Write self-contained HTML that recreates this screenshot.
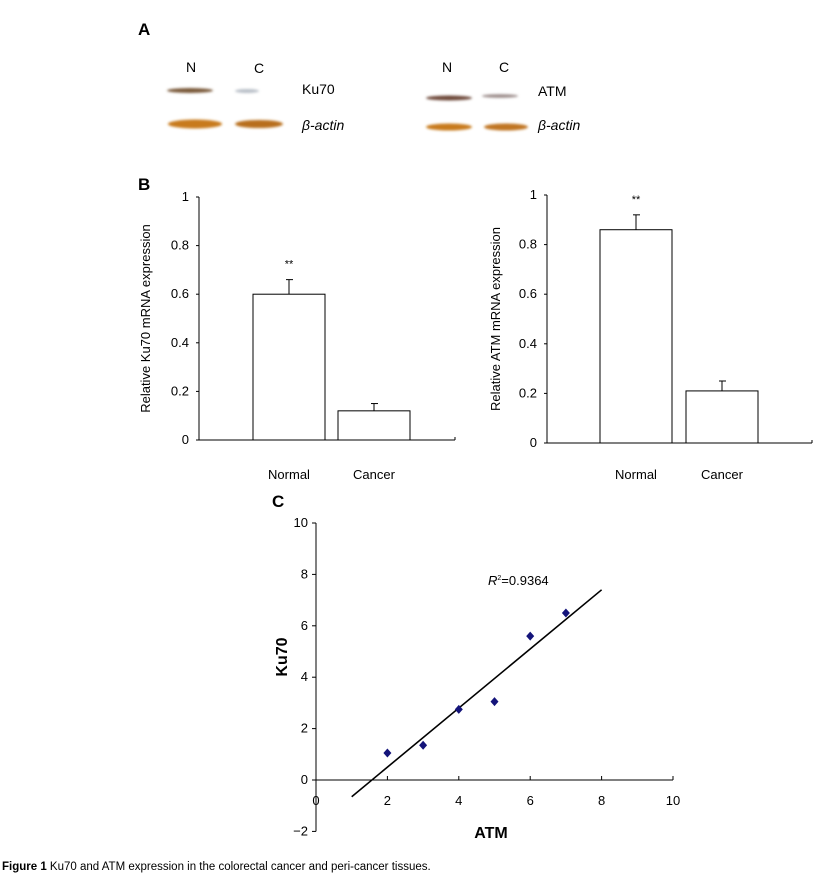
<!DOCTYPE html>
<html><head><meta charset="utf-8"><style>
body{margin:0;background:#fff;width:823px;height:878px;overflow:hidden;font-family:"Liberation Sans",sans-serif}
svg{position:absolute;left:0;top:0}
</style></head><body>
<svg width="823" height="878" font-family="Liberation Sans, sans-serif">
<defs>
<filter id="blur" x="-20%" y="-100%" width="140%" height="300%"><feGaussianBlur stdDeviation="1.2"/></filter>
</defs>
<g>
<text x="138" y="35" font-size="17" font-weight="bold">A</text>
<text x="186" y="72" font-size="14">N</text>
<text x="254" y="73" font-size="14">C</text>
<text x="302" y="94" font-size="14">Ku70</text>
<text x="302" y="130" font-size="14" font-style="italic">β-actin</text>
<ellipse cx="190" cy="90.5" rx="23" ry="2.5" fill="#7a5a3a" filter="url(#blur)"/>
<ellipse cx="247" cy="91" rx="12" ry="2" fill="#b9c0c8" filter="url(#blur)"/>
<ellipse cx="195" cy="124" rx="27" ry="4.5" fill="#c87a1e" filter="url(#blur)"/>
<ellipse cx="259" cy="124" rx="24" ry="4" fill="#b86e1a" filter="url(#blur)"/>
<text x="442" y="72" font-size="14">N</text>
<text x="499" y="72" font-size="14">C</text>
<text x="538" y="96" font-size="14">ATM</text>
<text x="538" y="130" font-size="14" font-style="italic">β-actin</text>
<ellipse cx="449" cy="98" rx="23" ry="2.5" fill="#6e4a3a" filter="url(#blur)"/>
<ellipse cx="500" cy="96" rx="18" ry="1.8" fill="#9a8a88" filter="url(#blur)"/>
<ellipse cx="449" cy="127" rx="23" ry="3.5" fill="#c87a1e" filter="url(#blur)"/>
<ellipse cx="506" cy="127" rx="22" ry="3.5" fill="#c07420" filter="url(#blur)"/>
</g>
<text x="138" y="190" font-size="17" font-weight="bold">B</text>
<text x="272" y="507" font-size="17" font-weight="bold">C</text>
<g id="b1"></g>
<g id="b2"></g>
<g id="sc"></g>
<text x="2" y="870" font-size="11.5"><tspan font-weight="bold">Figure 1</tspan> Ku70 and ATM expression in the colorectal cancer and peri-cancer tissues.</text>
</svg>
<script>
const barCategories=["Normal","Cancer"];
const ku70Values=[0.6,0.12];
const ku70Errors=[0.06,0.03];
const atmValues=[0.86,0.21];
const atmErrors=[0.06,0.04];
const barTicks=[0,0.2,0.4,0.6,0.8,1];
const barTickLabels=["0","0.2","0.4","0.6","0.8","1"];
const scatterX=[2,3,4,5,6,7];
const scatterY=[1.05,1.35,2.75,3.05,5.6,6.5];
const fitLineX=[1,8];
const fitSlope=1.15;
const fitIntercept=-1.8;
const scXTicks=[0,2,4,6,8,10];
const scYTicks=[-2,0,2,4,6,8,10];
const NS="http://www.w3.org/2000/svg";
function mk(p,t,a,txt){const e=document.createElementNS(NS,t);for(const k in a)e.setAttribute(k,a[k]);if(txt!==undefined)e.textContent=txt;p.appendChild(e);return e;}
function barChart(gid,cfg,vals,errs,title){
 const g=document.getElementById(gid);
 const y=v=>cfg.y0-(cfg.y0-cfg.y1)*v;
 let e=mk(g,'line',{x1:cfg.ax,y1:cfg.y1,x2:cfg.ax,y2:cfg.y0,stroke:'#000','stroke-width':1});
 
 
 e=mk(g,'line',{x1:cfg.ax,y1:cfg.y0,x2:cfg.xend,y2:cfg.y0,stroke:'#000','stroke-width':1});
 
 
 mk(g,'line',{x1:cfg.xend,y1:cfg.y0,x2:cfg.xend,y2:cfg.y0-3,stroke:'#000'});
 barTicks.forEach((t,i)=>{
  mk(g,'line',{x1:cfg.ax-3,y1:y(t),x2:cfg.ax,y2:y(t),stroke:'#000'});
  e=mk(g,'text',{x:cfg.ax-10,y:y(t)+4,'font-size':13,'text-anchor':'end'},barTickLabels[i]);
  
  
 });
 vals.forEach((v,i)=>{
  const x=cfg.bx[i];
  e=mk(g,'rect',{x:x,y:y(v),width:cfg.bw,height:y(0)-y(v),fill:'#fff',stroke:'#000','stroke-width':1});
  
  
  const cx=x+cfg.bw/2, ye=y(v+errs[i]);
  mk(g,'line',{x1:cx,y1:y(v),x2:cx,y2:ye,stroke:'#000'});
  mk(g,'line',{x1:cx-3,y1:ye,x2:cx+4,y2:ye,stroke:'#000'});
  e=mk(g,'text',{x:cx,y:cfg.ly,'font-size':13,'text-anchor':'middle'},barCategories[i]);
  
  
  if(i===0){
   e=mk(g,'text',{x:cx,y:ye-12,'font-size':11,'text-anchor':'middle'},'**');
   
   
  }
 });
 e=mk(g,'text',{x:0,y:0,'font-size':13,'text-anchor':'middle',transform:`translate(${cfg.tx},${(cfg.y0+cfg.y1)/2}) rotate(-90)`},title);
 
 
}
barChart('b1',{ax:199,y0:440,y1:197,xend:455,bx:[253,338],bw:72,ly:479,tx:150},ku70Values,ku70Errors,'Relative Ku70 mRNA expression');
barChart('b2',{ax:547,y0:443,y1:195,xend:812,bx:[600,686],bw:72,ly:479,tx:500},atmValues,atmErrors,'Relative ATM mRNA expression');
(function(){
 const g=document.getElementById('sc');
 const X=v=>316+35.7*v, Y=v=>780-25.7*v;
 let e=mk(g,'line',{x1:X(0),y1:Y(10),x2:X(0),y2:Y(-2),stroke:'#000'});
 
 
 e=mk(g,'line',{x1:X(0),y1:Y(0),x2:X(10),y2:Y(0),stroke:'#000'});
 
 
 scYTicks.forEach(t=>{
  mk(g,'line',{x1:X(0)-4,y1:Y(t),x2:X(0),y2:Y(t),stroke:'#000'});
  e=mk(g,'text',{x:X(0)-8,y:Y(t)+4,'font-size':13,'text-anchor':'end'},t<0?'−'+(-t):String(t));
  
  
 });
 scXTicks.forEach(t=>{
  mk(g,'line',{x1:X(t),y1:Y(0),x2:X(t),y2:Y(0)-4,stroke:'#000'});
  e=mk(g,'text',{x:X(t),y:Y(0)+25,'font-size':13,'text-anchor':'middle'},String(t));
  
  
 });
 e=mk(g,'line',{x1:X(fitLineX[0]),y1:Y(fitSlope*fitLineX[0]+fitIntercept),x2:X(fitLineX[1]),y2:Y(fitSlope*fitLineX[1]+fitIntercept),stroke:'#000','stroke-width':1.6});
 
 
 scatterX.forEach((x,i)=>{
  const cx=X(x),cy=Y(scatterY[i]);
  e=mk(g,'polygon',{points:`${cx},${cy-4.5} ${cx+4},${cy} ${cx},${cy+4.5} ${cx-4},${cy}`,fill:'#14147a'});
  
  
 });
 e=mk(g,'text',{x:488,y:585,'font-size':13});
 e.innerHTML='<tspan font-style="italic">R</tspan><tspan font-size="7" dy="-5">2</tspan><tspan dy="5">=0.9364</tspan>';
 
 
 e=mk(g,'text',{x:491,y:838,'font-size':16,'font-weight':'bold','text-anchor':'middle'},'ATM');
 
 
 e=mk(g,'text',{x:0,y:0,'font-size':16,'font-weight':'bold','text-anchor':'middle',transform:'translate(287,657) rotate(-90)'},'Ku70');
 
 
})();
</script>
</body></html>
